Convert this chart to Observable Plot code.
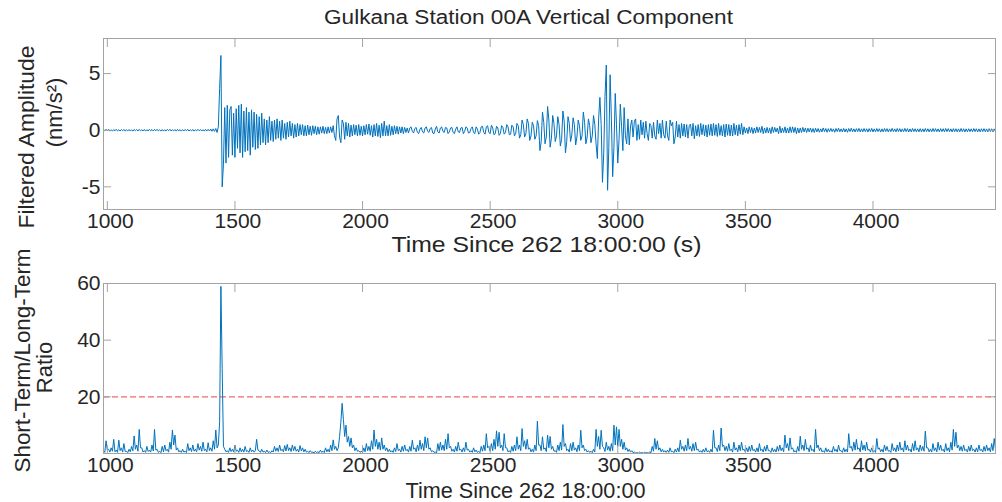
<!DOCTYPE html>
<html><head><meta charset="utf-8">
<script src="https://cdn.jsdelivr.net/npm/d3@7"></script>
<script src="https://cdn.jsdelivr.net/npm/@observablehq/plot@0.6"></script>
<style>
html,body{margin:0;padding:0;background:#fff;}
#wrap{position:relative;width:1002px;height:502px;overflow:hidden;font-family:"Liberation Sans",Arial,sans-serif;color:#262626;background:#fff;}
#title{position:absolute;left:0;top:5px;width:1057px;text-align:center;font-size:20px;line-height:24px;transform:scaleX(1.128);transform-origin:528.5px 0;white-space:nowrap;}
.panel{position:absolute;left:0;}
</style></head><body>
<div id="wrap"><div id="title"></div></div>
<script>
// ---- data ----
const titleText = "Gulkana Station 00A Vertical Component";
const timeStart = 985;   // s, first sample
const timeStep = 5;      // s between samples
const xDomain = [985, 4480];
const xTicks = [1000, 1500, 2000, 2500, 3000, 3500, 4000];
const ampTicks = [-5, 0, 5];
const ampDomain = [-7, 8.1];
const ratioTicks = [20, 40, 60];
const ratioDomain = [0, 60];
const threshold = 20;
const ampLabel1 = "Filtered Amplitude";
const ampLabel2 = "(nm/s²)";
const ratioLabel1 = "Short-Term/Long-Term";
const ratioLabel2 = "Ratio";
const xLabelTop = "Time Since 262 18:00:00 (s)";
const xLabelBottom = "Time Since 262 18:00:00";

// filtered amplitude (nm/s^2), one line = 100 s
const amplitude = [
  0.05,-0.06,0.08,-0.04,0.07,-0.08,0.03,-0.07,0.06,-0.05,0.08,-0.06,0.04,-0.07,0.06,-0.05,0.07,-0.08,0.05,-0.06,
  0.06,-0.07,0.05,-0.08,0.07,-0.04,0.06,-0.07,0.08,-0.05,0.04,-0.06,0.07,-0.08,0.05,-0.06,0.08,-0.05,0.06,-0.07,
  0.07,-0.05,0.08,-0.06,0.04,-0.07,0.06,-0.08,0.05,-0.06,0.07,-0.04,0.08,-0.07,0.05,-0.06,0.06,-0.08,0.07,-0.05,
  0.06,-0.08,0.05,-0.06,0.07,-0.05,0.08,-0.07,0.04,-0.06,0.07,-0.08,0.05,-0.06,0.08,-0.05,0.06,-0.07,0.05,-0.08,
  0.07,-0.06,0.08,-0.07,0.1,-0.09,0.12,-0.1,0.15,-0.2,0.3,3.7,6.6,-5.0,-3.0,2.0,-2.9,2.2,-2.4,1.8,
  2.1,-2.2,1.5,-2.4,1.9,-1.6,2.2,-2.0,2.3,-2.4,1.7,-1.9,2.0,-1.8,1.6,-2.2,1.8,-1.5,1.6,-1.7,
  1.4,-1.6,1.2,-1.3,1.5,-1.1,1.0,-1.3,0.9,-1.1,1.2,-0.9,0.8,-1.0,0.9,-0.8,1.0,-0.7,0.8,-0.9,
  0.9,-0.7,0.6,-0.8,0.7,-0.6,0.8,-0.5,0.6,-0.7,0.5,-0.6,0.6,-0.5,0.5,-0.4,0.5,-0.5,0.4,-0.5,
  0.45,-0.4,0.35,-0.45,0.4,-0.3,0.35,-0.4,0.3,-0.35,0.3,-0.25,0.35,-0.3,0.25,-0.3,0.3,-0.25,0.3,-0.2,
  0.4,-0.5,-0.9,1.0,1.3,-0.6,-1.1,0.9,0.6,-0.8,0.7,-0.5,0.6,-0.6,0.45,-0.5,0.5,-0.4,0.45,-0.5,
  0.5,-0.45,0.35,-0.5,0.4,-0.4,0.5,-0.35,0.55,-0.45,0.4,-0.6,0.5,-0.5,0.6,-0.55,0.45,-0.65,0.6,-0.5,
  0.8,-0.5,0.4,-0.5,0.5,-0.45,0.35,-0.4,0.4,-0.3,0.35,-0.35,0.3,-0.25,0.3,-0.3,0.25,-0.2,0.2,-0.25,
  0.2,0.3,-0.1,-0.25,0.15,0.25,-0.2,-0.3,0.1,0.25,-0.15,-0.25,0.2,0.3,-0.1,-0.2,0.15,0.25,-0.25,-0.3,
  0.1,0.35,-0.15,-0.25,0.2,0.3,-0.1,-0.2,0.25,0.2,-0.3,-0.15,0.2,0.25,-0.2,-0.3,0.1,0.3,-0.15,-0.2,
  0.2,0.25,-0.3,-0.1,0.3,0.2,-0.25,-0.2,0.15,0.3,-0.2,-0.3,0.3,0.1,-0.35,-0.2,0.3,0.35,-0.2,-0.35,
  0.3,0.4,-0.2,-0.3,0.45,0.2,-0.4,-0.3,0.35,0.2,-0.45,-0.3,0.4,0.25,-0.35,-0.2,0.5,0.3,-0.4,-0.35,
  0.45,0.3,-0.5,-0.3,0.6,0.4,-0.7,-0.4,0.9,0.5,-0.6,-0.3,1.0,0.6,-0.9,-0.5,0.7,0.4,-0.8,-0.5,
  0.85,0.4,-1.8,-1.0,1.6,0.7,-1.2,-0.6,2.1,0.9,-1.5,-0.7,1.3,0.6,-1.0,-0.5,1.2,0.5,-1.4,-0.8,
  1.7,0.8,-2.0,-1.0,1.2,0.6,-1.0,-0.4,1.1,0.5,-1.3,-0.6,0.9,0.4,-0.9,-0.5,1.6,0.7,-1.2,-0.6,
  1.0,0.4,-1.1,-0.5,1.3,0.5,-1.2,-2.5,1.0,2.9,0.5,-4.6,-2.0,3.0,5.75,-5.3,-1.5,4.9,1.0,-4.1,
  -1.5,3.25,0.5,-2.9,-0.8,2.3,0.3,-1.8,2.0,-0.5,-1.2,1.0,-1.3,0.4,0.9,-0.6,0.8,1.0,-0.9,0.5,
  -0.8,0.9,-0.4,0.7,-0.7,0.8,-0.3,-0.9,0.6,0.4,-0.7,0.7,-0.5,-0.8,0.9,-0.3,0.6,-0.7,0.9,-0.4,
  -0.7,0.8,-0.5,-0.9,0.9,0.4,0.7,-1.2,-0.6,0.8,-0.6,0.5,-0.7,0.6,-0.5,0.55,-0.6,0.5,-0.7,0.4,
  0.55,-0.5,0.6,-0.75,0.4,-0.5,0.5,-0.55,0.6,-0.4,0.5,-0.5,0.45,-0.6,0.5,-0.45,0.55,-0.5,0.6,-0.45,
  0.5,-0.55,0.6,-0.45,0.4,-0.5,0.5,-0.6,0.55,-0.45,0.5,-0.5,0.45,-0.5,0.6,-0.4,0.45,-0.5,0.5,-0.35,
  0.6,-0.4,0.3,-0.25,0.2,-0.3,0.3,-0.2,0.25,-0.3,0.2,-0.25,0.3,-0.2,0.25,-0.2,0.35,-0.3,0.2,-0.25,
  0.25,-0.25,0.2,-0.3,0.3,-0.2,0.25,-0.15,0.2,-0.3,0.35,-0.25,0.2,-0.2,0.3,-0.25,0.2,-0.25,0.3,-0.2,
  0.3,-0.2,0.25,-0.3,0.2,-0.25,0.2,-0.2,0.25,-0.15,0.2,-0.2,0.18,-0.15,0.2,-0.18,0.15,-0.2,0.18,-0.15,
  0.15,-0.18,0.12,-0.15,0.2,-0.12,0.15,-0.18,0.14,-0.12,0.16,-0.13,0.12,-0.18,0.15,-0.12,0.18,-0.14,0.12,-0.15,
  0.16,-0.15,0.12,-0.18,0.15,-0.12,0.18,-0.14,0.12,-0.15,0.14,-0.12,0.16,-0.15,0.12,-0.14,0.15,-0.12,0.13,-0.16,
  0.14,-0.12,0.16,-0.15,0.12,-0.14,0.15,-0.12,0.13,-0.16,0.12,-0.14,0.15,-0.12,0.14,-0.15,0.12,-0.13,0.16,-0.12,
  0.12,-0.14,0.15,-0.12,0.14,-0.15,0.12,-0.13,0.16,-0.12,0.14,-0.15,0.12,-0.14,0.15,-0.12,0.13,-0.15,0.12,-0.14,
  0.14,-0.15,0.12,-0.14,0.15,-0.12,0.13,-0.15,0.12,-0.14,0.15,-0.12,0.14,-0.13,0.12,-0.15,0.14,-0.12,0.13,-0.14,
  0.15,-0.12,0.14,-0.13,0.12,-0.15,0.14,-0.12,0.13,-0.14,0.12,-0.14,0.15,-0.12,0.13,-0.15,0.12,-0.14,0.13,-0.12,
  0.12,-0.14,0.15,-0.12,0.13,-0.15,0.12,-0.14,0.13,-0.12,0.14,-0.13,0.12,-0.15,0.14,-0.12,0.13,-0.14,0.12,-0.13
];

// short-term / long-term average ratio, one line = 100 s
const ratio = [
  1.0,0.4,4.5,1.2,1.5,0.5,2.0,0.8,5.0,0.6,1.2,0.4,4.7,1.0,2.0,0.5,3.5,0.7,0.8,0.3,
  1.5,0.6,2.5,0.9,6.2,1.5,3.0,0.8,8.5,2.0,2.0,0.5,1.0,0.4,2.5,0.7,1.2,0.5,3.0,0.9,
  8.5,1.2,1.5,0.4,0.8,0.3,2.5,0.6,3.0,1.0,1.5,0.5,4.0,1.5,8.3,3.0,6.5,1.2,2.0,0.6,
  1.0,0.4,1.5,0.5,0.8,0.3,3.5,1.0,2.0,0.7,3.0,0.8,1.5,0.6,3.5,1.2,2.5,0.8,4.0,1.0,
  1.5,0.6,3.8,1.0,2.0,0.8,4.5,1.5,8.3,2.0,3.0,11.2,59,30,2.5,1.5,0.6,1.0,0.4,2.0,
  0.7,1.5,0.5,3.0,0.8,1.2,0.4,2.0,0.6,1.5,0.5,2.5,0.7,1.0,0.4,2.0,0.6,1.2,0.5,1.0,
  5.0,1.2,1.0,0.4,1.5,0.5,0.8,0.3,1.2,0.4,0.6,0.3,1.0,0.5,2.5,0.8,2.0,0.7,3.0,1.0,
  1.5,0.6,2.8,0.9,3.2,1.0,2.0,0.7,3.0,1.0,2.5,0.8,1.5,0.5,2.8,0.9,2.0,0.6,1.5,0.5,
  0.8,0.3,1.0,0.4,0.5,0.2,0.8,0.3,0.6,0.3,1.2,0.4,0.8,0.3,2.0,0.6,1.5,0.5,3.0,1.0,
  4.8,1.5,2.5,1.0,2.0,6.0,11.0,17.7,12.0,6.0,10.0,4.0,6.0,2.5,5.5,2.0,3.0,1.0,2.0,0.8,
  1.0,0.4,0.8,0.3,2.0,0.6,3.5,1.0,2.5,0.8,4.5,1.5,8.3,2.5,5.0,1.5,4.0,1.2,5.5,1.5,
  3.0,1.0,2.0,0.6,1.5,0.5,1.0,0.4,2.0,0.7,3.5,1.0,1.5,0.5,2.5,0.8,3.0,1.0,1.5,0.5,
  2.5,0.8,4.7,1.5,2.0,0.6,3.0,1.0,4.7,1.5,3.5,1.0,5.9,2.0,5.5,1.5,2.0,0.6,1.0,0.4,
  0.5,0.2,3.5,1.0,4.0,1.2,3.0,1.0,5.0,1.5,7.0,2.0,2.5,0.8,1.5,0.5,2.5,0.8,4.0,1.2,
  1.5,0.5,2.0,0.7,4.0,1.2,1.5,0.5,1.0,0.4,2.0,0.6,1.2,0.4,0.8,0.3,2.5,0.8,3.0,1.0,
  7.0,2.0,2.5,0.8,3.5,1.0,5.0,1.5,8.0,2.5,7.5,2.0,3.0,1.0,7.0,2.0,2.0,0.6,1.0,0.4,
  2.5,0.8,3.0,1.0,5.9,1.5,3.0,1.0,8.8,2.5,4.5,1.5,5.0,1.5,2.0,0.6,1.5,0.5,3.0,1.0,
  11.4,3.0,3.0,1.0,5.9,1.5,2.0,0.7,6.5,2.0,6.0,1.5,2.5,0.8,1.0,0.4,3.0,1.0,4.0,1.2,
  10.2,2.5,3.5,1.0,1.5,0.5,3.5,1.0,4.0,1.2,2.0,0.6,3.0,1.0,8.2,2.0,3.0,1.0,1.5,0.5,
  1.0,0.4,0.8,0.3,1.5,0.5,8.5,2.5,6.0,1.5,8.2,2.5,2.0,0.7,4.0,1.2,2.5,0.8,3.5,1.0,
  10.0,3.0,9.4,2.5,8.5,2.5,5.0,1.5,4.0,1.2,2.0,0.7,1.5,0.5,1.0,0.3,0.5,0.2,0.3,0.1,
  0.5,0.2,0.3,0.1,0.4,0.2,0.3,0.1,0.6,0.3,2.5,0.8,5.3,1.5,4.5,1.2,2.0,0.6,1.5,0.5,
  1.0,0.4,1.2,0.4,2.0,0.6,0.8,0.3,1.5,0.5,2.0,0.6,4.7,1.5,2.5,0.8,3.0,1.0,5.3,1.5,
  2.5,0.8,3.5,1.0,4.0,1.2,1.5,0.5,1.0,0.4,1.5,0.5,2.0,0.6,1.0,0.4,1.5,0.5,8.2,2.0,
  2.0,0.7,3.0,1.0,9.0,2.5,3.0,1.0,2.5,0.8,3.5,1.0,1.5,0.5,4.0,1.2,2.0,0.6,3.0,1.0,
  4.0,1.2,1.5,0.5,2.0,0.6,2.5,0.8,3.0,1.0,1.5,0.5,2.0,0.6,3.5,1.0,1.5,0.5,2.5,0.8,
  3.0,1.0,1.0,0.4,2.0,0.6,1.5,0.5,2.5,0.8,3.0,1.0,2.0,0.6,6.5,2.0,3.5,1.0,5.5,1.5,
  2.0,0.6,1.0,0.4,2.5,0.8,6.1,1.5,3.0,1.0,5.0,1.5,2.0,0.6,3.0,1.0,1.5,0.5,8.5,2.0,
  3.0,1.0,2.0,0.6,1.0,0.4,2.0,0.6,1.5,0.5,1.0,0.4,2.5,0.8,1.5,0.5,3.0,1.0,1.0,0.4,
  2.0,0.6,1.5,0.5,7.0,2.0,2.5,0.8,4.0,1.2,5.0,1.5,2.0,0.6,4.5,1.2,3.0,1.0,4.0,1.2,
  1.5,0.5,2.0,0.6,1.0,0.4,5.3,1.5,2.0,0.6,1.5,0.5,3.0,1.0,2.5,0.8,1.0,0.4,3.5,1.0,
  2.0,0.6,3.0,1.0,4.0,1.2,2.0,0.6,4.5,1.2,3.0,1.0,1.5,0.5,3.5,1.0,4.5,1.2,2.0,0.6,
  3.0,1.0,2.5,0.8,7.9,2.0,2.0,0.6,1.5,0.5,3.5,1.0,2.0,0.6,4.0,1.2,3.0,1.0,1.5,0.5,
  3.5,1.0,2.0,0.6,4.0,1.2,8.5,2.5,7.5,2.0,3.0,1.0,2.5,0.8,3.0,1.0,1.5,0.5,2.5,0.8,
  3.0,1.0,1.5,0.5,2.0,0.6,3.0,1.0,1.5,0.5,2.5,0.8,3.0,1.0,2.0,0.6,3.5,1.0,5.3,1.5
];

// ---- build ----
const traceColor = "#0072BD";
const boxColor = "#a3a3a3";
const textColor = "#262626";
const font = "Liberation Sans, Arial, Helvetica, sans-serif";

const ampData = amplitude.map((v, i) => ({t: timeStart + i * timeStep, v}));
const ratioData = ratio.map((v, i) => ({t: timeStart + i * timeStep, v}));

function boxMarks(yt) {
  return [
    Plot.frame({stroke: boxColor}),
    Plot.axisX(xTicks, {anchor: "bottom", tickSize: 8, dy: -8, stroke: boxColor, tickFormat: () => "", label: null}),
    Plot.axisX(xTicks, {anchor: "top", tickSize: 8, dy: 8, stroke: boxColor, tickFormat: () => "", label: null}),
    Plot.axisY(yt, {anchor: "left", tickSize: 8, dx: 8, stroke: boxColor, tickFormat: () => "", label: null}),
    Plot.axisY(yt, {anchor: "right", tickSize: 8, dx: -8, stroke: boxColor, tickFormat: () => "", label: null}),
    Plot.axisX(xTicks, {anchor: "bottom", tickSize: 0, tickPadding: 4, dx: 3, fill: textColor, fontSize: 21, tickFormat: d => String(d), label: null}),
    Plot.axisY(yt, {anchor: "left", tickSize: 0, tickPadding: 3, fill: textColor, fontSize: 21, tickFormat: d => String(d), label: null})
  ];
}

function label(str, opts) {
  return Plot.text([str], {text: d => d, textAnchor: "middle", lineAnchor: "middle", fontSize: 22, fill: textColor, ...opts});
}

const common = {
  width: 1002,
  marginLeft: 103,
  marginRight: 7,
  style: {fontFamily: font, fontSize: "21px", color: textColor, background: "transparent", overflow: "visible"}
};

const topPlot = Plot.plot({
  ...common,
  height: 230,
  marginTop: 10,
  marginBottom: 49,
  x: {domain: xDomain},
  y: {domain: ampDomain},
  marks: [
    Plot.line(ampData, {x: "t", y: "v", stroke: traceColor, strokeWidth: 1}),
    ...boxMarks(ampTicks),
    label(ampLabel1, {frameAnchor: "left", rotate: -90, dx: -77, dy: 13}),
    label(ampLabel2, {frameAnchor: "left", rotate: -90, dx: -49, dy: -11.5}),
    label(xLabelTop, {frameAnchor: "bottom", dx: -3, dy: 35})
  ]
});

const bottomPlot = Plot.plot({
  ...common,
  height: 242,
  marginTop: 23,
  marginBottom: 49,
  x: {domain: xDomain},
  y: {domain: ratioDomain},
  marks: [
    Plot.ruleY([threshold], {stroke: "#f06a6a", strokeWidth: 1.2, strokeDasharray: "6,3"}),
    Plot.line(ratioData, {x: "t", y: "v", stroke: traceColor, strokeWidth: 1}),
    ...boxMarks(ratioTicks),
    label(ratioLabel1, {frameAnchor: "left", rotate: -90, dx: -81, dy: -8}),
    label(ratioLabel2, {frameAnchor: "left", rotate: -90, dx: -59, dy: -1}),
    label(xLabelBottom, {frameAnchor: "bottom", dx: -24, dy: 37})
  ]
});

const wrap = document.getElementById("wrap");
document.getElementById("title").textContent = titleText;
topPlot.classList.add("panel"); topPlot.style.top = "28px";
bottomPlot.classList.add("panel"); bottomPlot.style.top = "260px";
wrap.appendChild(topPlot);
wrap.appendChild(bottomPlot);

// widen horizontal labels to the reference's text extents
const textWidths = [[xLabelTop, 310], [xLabelBottom, 240], [ampLabel1, 183], [ratioLabel1, 224]];
for (const svg of [topPlot, bottomPlot]) {
  svg.querySelectorAll("text").forEach(t => {
    for (const [s, w] of textWidths) {
      if (t.textContent === s) {
        t.setAttribute("textLength", w);
        t.setAttribute("lengthAdjust", "spacingAndGlyphs");
      }
    }
  });
}
</script>
</body></html>
